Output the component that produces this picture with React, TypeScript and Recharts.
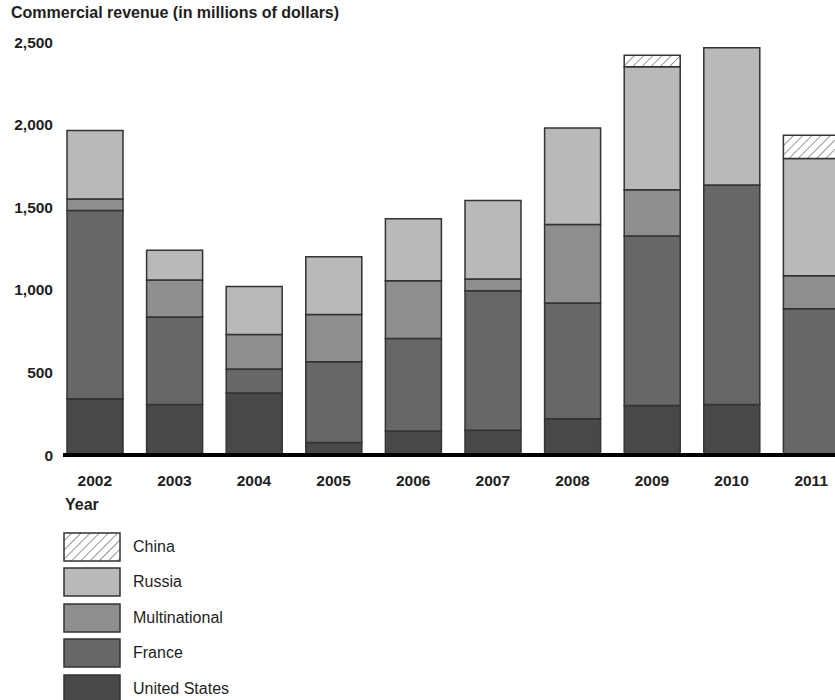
import { BarChart, Bar, XAxis, YAxis } from "recharts";

const years = ["2002", "2003", "2004", "2005", "2006", "2007", "2008", "2009", "2010", "2011"];
const unitedStates  = [340, 305, 375, 75, 145, 150, 220, 300, 305, 0];
const france        = [1140, 530, 145, 490, 560, 845, 700, 1025, 1330, 885];
const multinational = [70, 225, 210, 285, 350, 70, 475, 280, 0, 200];
const russia        = [415, 180, 290, 350, 375, 475, 585, 745, 830, 710];
const china         = [0, 0, 0, 0, 0, 0, 0, 70, 0, 140];
const yTicks = [0, 500, 1000, 1500, 2000, 2500];

// bottom of the stack first
const series = [
  { key: "us",     name: "United States", fill: "#484848" },
  { key: "france", name: "France",        fill: "#676767" },
  { key: "multi",  name: "Multinational", fill: "#8e8e8e" },
  { key: "russia", name: "Russia",        fill: "#b9b9b9" },
  { key: "china",  name: "China",         fill: "url(#hatch)" },
];

const data = years.map((year, i) => ({
  year,
  us: unitedStates[i],
  france: france[i],
  multi: multinational[i],
  russia: russia[i],
  china: china[i],
}));

const FONT = '"Liberation Sans", Arial, sans-serif';
const INK = "#1e1e1e";

function YearTick({ x, y, payload }: { x?: number; y?: number; payload?: { value: string } }) {
  return (
    <text x={x} y={(y ?? 0) + 25} textAnchor="middle" dominantBaseline="central"
      fontFamily={FONT} fontSize={15.5} fontWeight="bold" fill={INK}>
      {payload?.value}
    </text>
  );
}

function HatchDef({ id }: { id: string }) {
  return (
    <pattern id={id} patternUnits="userSpaceOnUse" width="6.5" height="6.5" patternTransform="rotate(45)">
      <rect width="6.5" height="6.5" fill="#fff" />
      <line x1="0" y1="0" x2="0" y2="6.5" stroke="#555" strokeWidth="1.2" />
    </pattern>
  );
}

function Swatch({ fill }: { fill: string }) {
  return (
    <svg width={58} height={30} style={{ display: "block" }}>
      <defs>
        <HatchDef id="hatch-legend" />
      </defs>
      <rect x={1} y={1} width={56} height={28}
        fill={fill === "url(#hatch)" ? "url(#hatch-legend)" : fill}
        stroke="#333" strokeWidth={1.5} />
    </svg>
  );
}

export default function App() {
  const legendItems = [...series].reverse();
  return (
    <div style={{ position: "absolute", left: 0, top: 0, width: 835, height: 700, overflow: "hidden", background: "#fff", fontFamily: FONT, color: INK }}>
      <div style={{ position: "absolute", left: 11, top: 4, fontSize: 16, fontWeight: "bold", lineHeight: "18px", whiteSpace: "nowrap" }}>
        Commercial revenue (in millions of dollars)
      </div>

      <div style={{ position: "absolute", left: 0, top: 0 }}>
        <BarChart width={851} height={520} data={data} margin={{ top: 42, right: 0, bottom: 25, left: 0 }}>
          <defs>
            <HatchDef id="hatch" />
          </defs>
          <XAxis
            dataKey="year"
            tickLine={false}
            tickSize={0}
            tickMargin={0}
            height={40}
            padding={{ left: -8, right: 0 }}
            axisLine={{ stroke: "#000", strokeWidth: 4 }}
            tick={<YearTick />}
            interval={0}
          />
          <YAxis
            width={63}
            domain={[0, 2500]}
            ticks={yTicks}
            tickFormatter={(v: number) => v.toLocaleString("en-US")}
            axisLine={false}
            tickLine={false}
            tickSize={0}
            tickMargin={10}
            tick={{ fontFamily: FONT, fontSize: 15.5, fontWeight: "bold", fill: INK }}
          />
          {series.map((s) => (
            <Bar key={s.key} dataKey={s.key} name={s.name} stackId="rev" fill={s.fill}
              stroke="#333" strokeWidth={1.5} barSize={56} isAnimationActive={false} />
          ))}
        </BarChart>
      </div>

      <div style={{ position: "absolute", left: 65, top: 495, fontSize: 16, fontWeight: "bold", lineHeight: "20px" }}>
        Year
      </div>

      <div style={{ position: "absolute", left: 63, top: 529 }}>
        {legendItems.map((s) => (
          <div key={s.key} style={{ display: "flex", alignItems: "center", height: 35.5 }}>
            <Swatch fill={s.fill} />
            <span style={{ marginLeft: 12, fontSize: 16, lineHeight: "20px" }}>{s.name}</span>
          </div>
        ))}
      </div>
    </div>
  );
}
